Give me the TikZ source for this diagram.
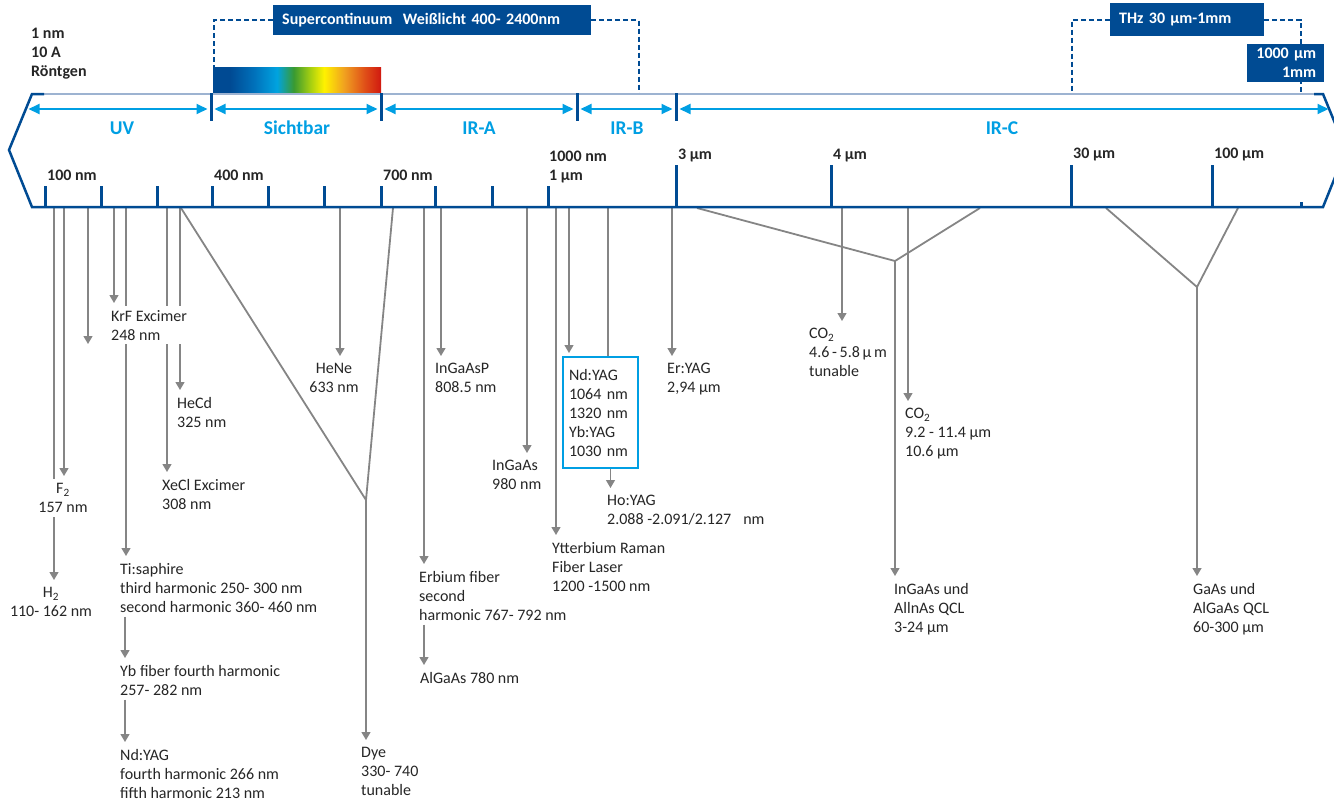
\documentclass[tikz,border=0pt]{standalone}
\usepackage{fontspec}
\setmainfont{Carlito}
\usepackage{xcolor}
\usepackage{tikz}
\usetikzlibrary{arrows.meta, backgrounds}

\definecolor{bandblue}{HTML}{004B93}
\definecolor{skyblue}{HTML}{009FE3}
\definecolor{linegray}{HTML}{858585}
\definecolor{ink}{HTML}{262626}
\definecolor{rimblue}{HTML}{9DB3D1}
\definecolor{spA}{HTML}{004A93}
\definecolor{spB}{HTML}{0070BA}
\definecolor{spC}{HTML}{00A3E0}
\definecolor{spD}{HTML}{3A9A30}
\definecolor{spE}{HTML}{A8D010}
\definecolor{spF}{HTML}{FFF200}
\definecolor{spG}{HTML}{F0A020}
\definecolor{spH}{HTML}{E05018}
\definecolor{spI}{HTML}{D01810}
\pgfdeclarehorizontalshading{spectrum}{100bp}{color(0bp)=(spA); color(25bp)=(spA); color(30bp)=(spA); color(37bp)=(spB); color(44bp)=(spC); color(49bp)=(spD); color(54bp)=(spE); color(58bp)=(spF); color(64bp)=(spG); color(70bp)=(spH); color(75bp)=(spI); color(100bp)=(spI)}

\newcommand\lasfont{\fontsize{16}{19}\selectfont}

\begin{document}
\begin{tikzpicture}[x=1pt, y=-1pt,
			every node/.style={text=ink},
			laser/.style={anchor=north west, xshift=-4pt, yshift=4pt, inner sep=4pt, fill=white, align=left, font=\lasfont},
			lasermid/.style={laser, anchor=north, xshift=0pt, align=center},
			scalemark/.style={anchor=north west, inner sep=0pt, align=left, font=\lasfont\bfseries},
			bandname/.style={text=skyblue, font=\fontsize{19.5}{22}\selectfont\bfseries},
			bandbox/.style={fill=bandblue, text=white, anchor=north west, inner ysep=0pt, inner xsep=9pt, align=left, font=\lasfont\bfseries},
			arrow/.style={draw=linegray, line width=1.3pt, -{Triangle[length=8pt,width=9pt]}, shorten >=3pt},
			fork/.style={draw=linegray, line width=1.8pt},
			bandarrow/.style={draw=skyblue, line width=2pt, {Triangle[length=11pt,width=10pt]}-{Triangle[length=11pt,width=10pt]}, shorten <=3.5pt, shorten >=3.5pt},
			scaletick/.style={draw=bandblue, line width=3pt},
			dashline/.style={draw=bandblue, line width=1.8pt, dash pattern=on 5pt off 3pt}
			]
			\useasboundingbox (0,0) rectangle (1334,801);
			
			% Scale
			\draw[rimblue, line width=1.5pt] (44,94) -- (1314,94);
			\draw[bandblue, line width=2.5pt] (44,94) -- (32,94) -- (9,150) -- (32,207) -- (1323,207) -- (1346,150) -- (1323,94) -- (1314,94);
			\foreach \x in {211,381,577,676} \draw[scaletick] (\x,93) -- (\x,121);
			\foreach \x in {45,101,157,212,268,324,381,435,492,548} \draw[scaletick] (\x,186) -- (\x,207);
			\foreach \x in {676,831,1071,1212} \draw[scaletick] (\x,165) -- (\x,207);
			\draw[scaletick] (1301,202) -- (1301,207);
			
			\coordinate (d0) at (25,109);
			\coordinate (d1) at (211,109);
			\coordinate (d2) at (381,109);
			\coordinate (d3) at (577,109);
			\coordinate (d4) at (676,109);
			\coordinate (d5) at (1332,109);
			\draw[bandarrow] (d0) -- (d1);
			\draw[bandarrow] (d1) -- (d2);
			\draw[bandarrow] (d2) -- (d3);
			\draw[bandarrow] (d3) -- (d4);
			\draw[bandarrow] (d4) -- (d5);
			
			\node[bandname] (uv) at (122,128) {UV};
			\node[bandname] (vis) at (297,128) {Sichtbar};
			\node[bandname] (ira) at (479,128) {IR-A};
			\node[bandname] (irb) at (627,128) {IR-B};
			\node[bandname] (irc) at (1002,128) {IR-C};
			
			\node[scalemark] (xray) at (31,28) {1 nm\\10 A\\Röntgen};
			\node[scalemark] (nm100) at (47,170) {100 nm};
			\node[scalemark] (nm400) at (214,170) {400 nm};
			\node[scalemark] (nm700) at (383,170) {700 nm};
			\node[scalemark] (um1) at (549,151) {1000 nm\\1 µm};
			\node[scalemark] (um3) at (678,149) {3 µm};
			\node[scalemark] (um4) at (833,149) {4 µm};
			\node[scalemark] (um30) at (1073,148) {30 µm};
			\node[scalemark] (um100) at (1214,148) {100 µm};
			
			% Top boxes
			\node[anchor=north west, minimum width=168pt, minimum height=25pt, inner sep=0pt, shade, shading=spectrum] (spec) at (213,67) {};
			\node[bandbox, minimum height=30pt, text width=300pt] (supercont) at (273,5) {Supercontinuum\ \ Weißlicht 400- 2400nm};
			\node[bandbox, minimum height=33pt, text width=136pt] (thz) at (1110,3) {THz 30 µm-1mm};
			\node[bandbox, minimum height=38pt, text width=61pt, inner xsep=8pt, align=right] (mm) at (1247,44) {1000 µm\\1mm};
			\coordinate (sc_r) at (639,94);
			\coordinate (thz_l) at (1072,94);
			\coordinate (thz_r) at (1301,94);
			
			% Lasers
			\node[lasermid] (h2) at (55,587) {H\textsubscript{2}\\110- 162 nm};
			\node[lasermid] (f2) at (67,483) {F\textsubscript{2}\\157 nm};
			\node[laser] (krf) at (111,310) {KrF Excimer\\248 nm};
			\node[laser] (tisa) at (120,563) {Ti:saphire\\third harmonic 250- 300 nm\\second harmonic 360- 460 nm};
			\node[laser] (ybfib) at (120,665) {Yb fiber fourth harmonic\\257- 282 nm};
			\node[laser] (ndyagh) at (120,749) {Nd:YAG\\fourth harmonic 266 nm\\fifth harmonic 213 nm};
			\node[laser] (xecl) at (162,479) {XeCl Excimer\\308 nm};
			\node[laser] (hecd) at (177,397) {HeCd\\325 nm};
			\node[lasermid] (hene) at (338,363) {HeNe\\633 nm};
			\node[laser] (dye) at (361,747) {Dye\\330- 740\\tunable};
			\node[laser] (ingaasp) at (435,363) {InGaAsP\\808.5 nm};
			\node[laser] (erfib) at (419,571) {Erbium fiber\\second\\harmonic 767- 792 nm};
			\node[laser] (algaas) at (420,672) {AlGaAs 780 nm};
			\node[laser] (ingaas) at (492,460) {InGaAs\\980 nm};
			\node[laser] (ybraman) at (552,542) {Ytterbium Raman\\Fiber Laser\\1200 -1500 nm};
			\node[anchor=north west, draw=skyblue, line width=2pt, fill=white, text width=63pt, minimum height=111pt, inner xsep=6pt, align=left, font=\lasfont] (ndyag) at (562,356) {Nd:YAG\\1064 nm\\1320 nm\\Yb:YAG\\1030 nm};
			\node[laser] (hoyag) at (607,495) {Ho:YAG\\2.088 -2.091/2.127\hspace{12pt}nm};
			\node[laser] (eryag) at (667,363) {Er:YAG\\2,94 µm};
			\node[laser, inner xsep=2pt, xshift=2pt] (co2a) at (809,328) {CO\textsubscript{2}\\4.6\,-\,5.8\,µ\,m\\tunable};
			\node[laser] (co2b) at (905,408) {CO\textsubscript{2}\\9.2 - 11.4 µm\\10.6 µm};
			\node[laser] (qcla) at (894,583) {InGaAs und\\AllnAs QCL\\3-24 µm};
			\node[laser] (qclb) at (1193,583) {GaAs und\\AlGaAs QCL\\60-300 µm};
			
			\coordinate (h2_in) at (54,208);
			\coordinate (f2_in) at (64,208);
			\coordinate (open_in) at (88,208);
			\coordinate (open_end) at (88,347);
			\coordinate (krf_in) at (114,208);
			\coordinate (tisa_in) at (126,208);
			\coordinate (xecl_in) at (167,208);
			\coordinate (hecd_in) at (180,208);
			\coordinate (hene_in) at (340,208);
			\coordinate (erfib_in) at (424,208);
			\coordinate (ingaasp_in) at (441,208);
			\coordinate (ingaas_in) at (527,208);
			\coordinate (ybraman_in) at (556,208);
			\coordinate (ndyag_in) at (569,208);
			\coordinate (ndyag_line) at (608,208);
			\coordinate (eryag_in) at (672,208);
			\coordinate (co2a_in) at (842,208);
			\coordinate (co2b_in) at (908,208);
			\coordinate (dye_a) at (181,208);
			\coordinate (dye_b) at (393,208);
			\coordinate (dye_fork) at (366,500);
			\coordinate (qcla_a) at (697,208);
			\coordinate (qcla_b) at (980,208);
			\coordinate (qcla_fork) at (895,261);
			\coordinate (qclb_a) at (1106,208);
			\coordinate (qclb_b) at (1238,208);
			\coordinate (qclb_fork) at (1197,287);
			
			% Connections
			\begin{pgfonlayer}{background}
			\draw[dashline] (supercont.west) -| ([xshift=1pt]spec.north west);
			\draw[dashline] (supercont.east) -| (sc_r);
			\draw[dashline] (thz.west) -| (thz_l);
			\draw[dashline] (thz.east) -| (thz_r);
			
			\draw[arrow] (h2_in) -- (h2_in |- h2.north);
			\draw[arrow] (f2_in) -- (f2_in |- f2.north);
			\draw[arrow] (open_in) -- (open_end);
			\draw[arrow] (krf_in) -- (krf_in |- krf.north);
			\draw[arrow] (tisa_in) -- (tisa_in |- tisa.north);
			\draw[arrow] (xecl_in) -- (xecl_in |- xecl.north);
			\draw[arrow] (hecd_in) -- (hecd_in |- hecd.north);
			\draw[arrow] (hene_in) -- (hene_in |- hene.north);
			\draw[arrow] (erfib_in) -- (erfib_in |- erfib.north);
			\draw[arrow] (ingaasp_in) -- (ingaasp_in |- ingaasp.north);
			\draw[arrow] (ingaas_in) -- (ingaas_in |- ingaas.north);
			\draw[arrow] (ybraman_in) -- (ybraman_in |- ybraman.north);
			\draw[arrow] (ndyag_in) -- (ndyag_in |- ndyag.north);
			\draw[fork, line width=1.3pt] (ndyag_line) -- (ndyag_line |- ndyag.north);
			\draw[arrow] (eryag_in) -- (eryag_in |- eryag.north);
			\draw[arrow] (co2a_in) -- (co2a_in |- co2a.north);
			\draw[arrow] (co2b_in) -- (co2b_in |- co2b.north);
			
			\draw[arrow] ([xshift=9pt]tisa.south west) -- ([xshift=9pt]tisa.south west |- ybfib.north);
			\draw[arrow] ([xshift=9pt]ybfib.south west) -- ([xshift=9pt]ybfib.south west |- ndyagh.north);
			\draw[arrow] ([xshift=9pt]erfib.south west) -- ([xshift=9pt]erfib.south west |- algaas.north);
			\draw[arrow] ([xshift=10pt]ndyag.south) -- ([xshift=10pt]ndyag.south |- hoyag.north);
			
			\draw[fork] (dye_a) -- (dye_fork) -- (dye_b);
			\draw[arrow] (dye_fork) -- (dye_fork |- dye.north);
			\draw[fork] (qcla_a) -- (qcla_fork) -- (qcla_b);
			\draw[arrow] (qcla_fork) -- (qcla_fork |- qcla.north);
			\draw[fork] (qclb_a) -- (qclb_fork) -- (qclb_b);
			\draw[arrow] (qclb_fork) -- (qclb_fork |- qclb.north);
			\end{pgfonlayer}
			
		\end{tikzpicture}
\end{document}
